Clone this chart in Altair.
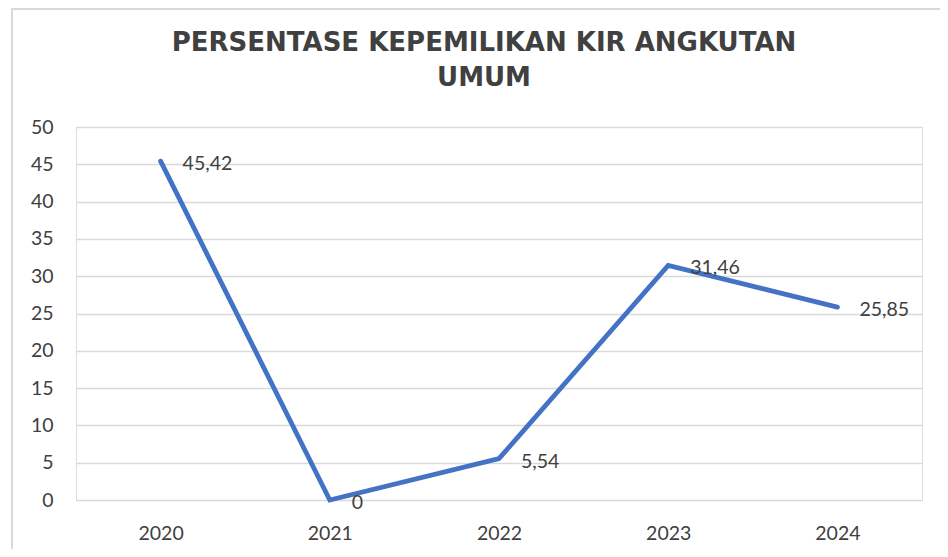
import altair as alt
import pandas as pd

years = ["2020", "2021", "2022", "2023", "2024"]
values = [45.42, 0, 5.54, 31.46, 25.85]
value_labels = ["45,42", "0", "5,54", "31,46", "25,85"]
y_ticks = [0, 5, 10, 15, 20, 25, 30, 35, 40, 45, 50]
title_lines = ["PERSENTASE KEPEMILIKAN KIR ANGKUTAN", "UMUM"]

df = pd.DataFrame({"Tahun": years, "Nilai": values, "Label": value_labels})

W, H = 846, 373

x_enc = alt.X(
    "Tahun:N",
    sort=years,
    scale=alt.Scale(type="point", padding=0.5),
    axis=alt.Axis(
        title=None, domain=False, ticks=False, labelAngle=0,
        labelFont="Lato", labelFontSize=19.5, labelColor="#404040",
        labelPadding=24, grid=False,
    ),
)
y_enc = alt.Y(
    "Nilai:Q",
    scale=alt.Scale(domain=[0, 50], nice=False, zero=True),
    axis=alt.Axis(
        title=None, domain=False, ticks=False, values=y_ticks,
        labelFont="Lato", labelFontSize=19.5, labelColor="#404040",
        labelPadding=23, grid=True, gridColor="#d9d9d9", gridWidth=1.3,
        labelOverlap=False, tickCount=11,
    ),
)

base = alt.Chart(df)

line = base.mark_line(color="#4472C4", strokeWidth=4.8, strokeCap="round", strokeJoin="miter").encode(
    x=x_enc, y=y_enc
)

labels = base.mark_text(
    align="left", baseline="middle", dx=22, dy=3,
    font="Lato", fontSize=19.5, color="#404040",
).encode(
    x=x_enc,
    y=y_enc,
    text="Label:N",
)

one = pd.DataFrame({"f": [0]})

frame = alt.Chart(one).mark_rect(
    fill=None, stroke="#d9d9d9", strokeWidth=2
).encode(
    x=alt.value(-64), x2=alt.value(W + 60),
    y=alt.value(-118), y2=alt.value(H + 80),
)

title = alt.Chart(one).mark_text(
    text=title_lines, align="center", baseline="alphabetic", lineHeight=35,
    font="DejaVu Sans", fontSize=26, fontWeight="bold", color="#404040",
).encode(
    x=alt.value(W / 2 - 15), y=alt.value(-76),
)

chart = alt.layer(frame, line, labels, title).properties(
    width=W, height=H,
    autosize=alt.AutoSizeParams(type="none"),
    padding={"left": 68, "top": 119, "right": 18, "bottom": 49},
).configure_view(stroke=None).configure(background="white")

chart.save("out.html", embed_options={"renderer": "svg", "actions": False})
